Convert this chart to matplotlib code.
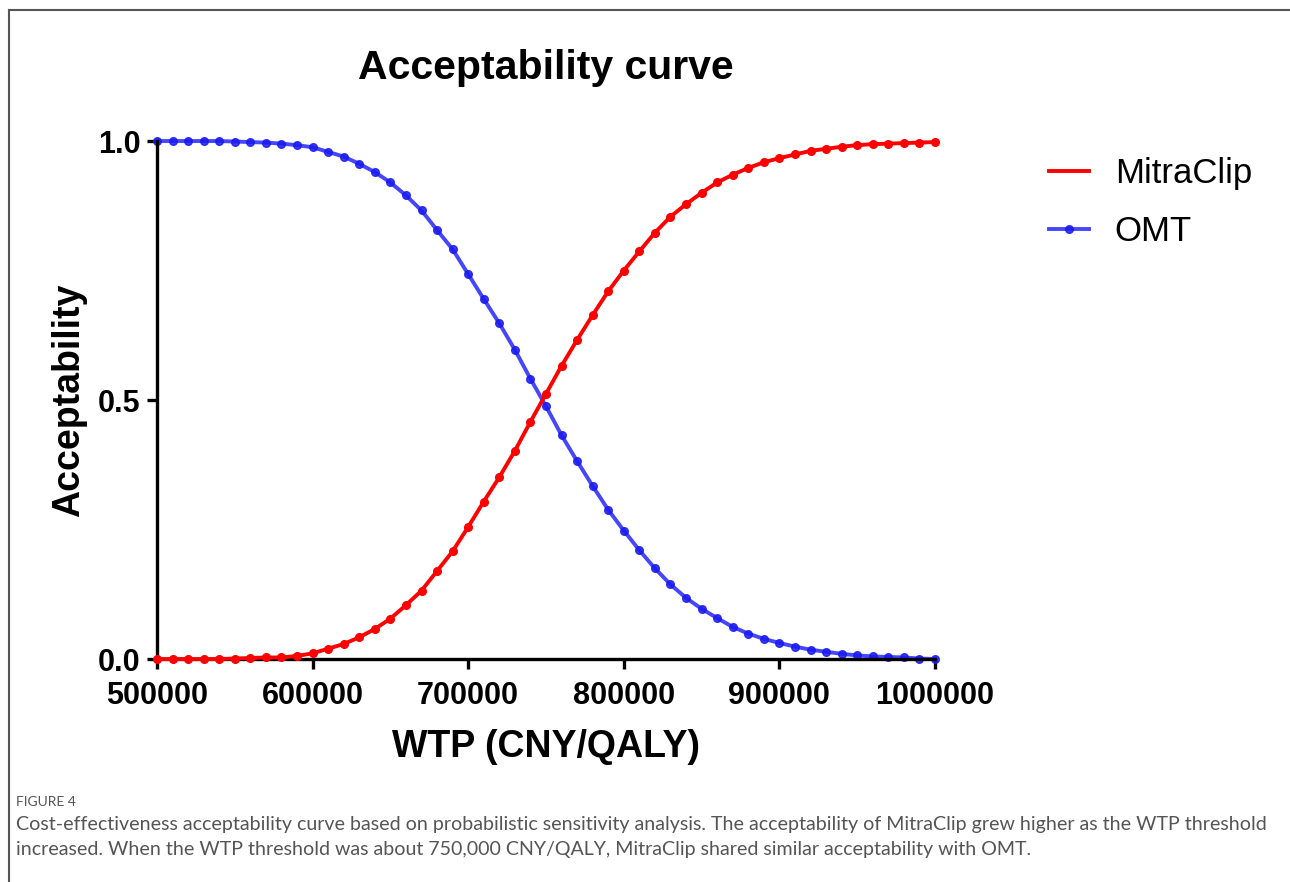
import numpy as np
import matplotlib.pyplot as plt
from matplotlib.lines import Line2D

# WTP thresholds (CNY/QALY), one point every 10000
wtp = list(range(500000, 1000001, 10000))

# acceptability
omt = [1.000, 1.000, 1.000, 1.000, 1.000, 0.999, 0.998, 0.997, 0.995, 0.992,
       0.988, 0.979, 0.970, 0.956, 0.940, 0.920, 0.895, 0.866, 0.828, 0.791,
       0.743, 0.695, 0.648, 0.597, 0.541, 0.488, 0.432, 0.382, 0.334, 0.288,
       0.248, 0.210, 0.175, 0.144, 0.118, 0.097, 0.079, 0.062, 0.049, 0.039,
       0.031, 0.024, 0.018, 0.014, 0.010, 0.007, 0.005, 0.004, 0.003, 0.001,
       0.000]
mitraclip = [0.000, 0.000, 0.000, 0.000, 0.000, 0.001, 0.002, 0.003, 0.003, 0.006,
             0.011, 0.020, 0.029, 0.042, 0.058, 0.078, 0.104, 0.132, 0.170, 0.208,
             0.255, 0.304, 0.351, 0.402, 0.458, 0.512, 0.566, 0.616, 0.664, 0.710,
             0.750, 0.787, 0.823, 0.854, 0.878, 0.900, 0.920, 0.935, 0.948, 0.959,
             0.967, 0.974, 0.981, 0.985, 0.989, 0.992, 0.994, 0.995, 0.996, 0.997,
             0.998]

xticks = [500000, 600000, 700000, 800000, 900000, 1000000]
yticks = [0.0, 0.5, 1.0]

caption = ("Cost-effectiveness acceptability curve based on probabilistic sensitivity analysis. "
           "The acceptability of MitraClip grew higher as the WTP threshold\n"
           "increased. When the WTP threshold was about 750,000 CNY/QALY, "
           "MitraClip shared similar acceptability with OMT.")

plt.rcParams['font.family'] = ['Liberation Sans', 'DejaVu Sans']

fig = plt.figure(figsize=(12.9, 8.82), dpi=100)
ax = fig.add_axes([0.1217, 0.2528, 0.6031, 0.5873])

ax.plot(wtp, mitraclip, color='#ff0000', lw=2.8, label='MitraClip', zorder=3)
ax.plot(wtp, mitraclip, ls='none', marker='o', ms=5.5, color='#ff0000', zorder=4)
ax.plot(wtp, omt, color='#2525ff', lw=2.8, alpha=0.85, marker='o', ms=5.5,
        markerfacecolor='#1a1af0', markeredgecolor='#1a1af0', label='OMT', zorder=2)

ax.set_xlim(500000, 1000000)
ax.set_ylim(0, 1.0)
ax.set_xticks(xticks)
ax.set_xticklabels([str(t) for t in xticks])
ax.set_yticks(yticks)
ax.set_yticklabels(['%.1f' % t for t in yticks])
ax.spines['top'].set_visible(False)
ax.spines['right'].set_visible(False)
for s in ['left', 'bottom']:
    ax.spines[s].set_linewidth(2.4)
ax.tick_params(axis='both', width=2.4, length=7, labelsize=22)
ax.tick_params(axis='x', pad=9)
ax.tick_params(axis='y', pad=5)
for lab in ax.get_xticklabels() + ax.get_yticklabels():
    lab.set_fontweight('bold')
ax.margins(0)
for line in ax.lines:
    line.set_clip_on(False)

ax.set_xlabel('WTP (CNY/QALY)', fontsize=27, fontweight='bold', labelpad=13)
ax.set_ylabel('Acceptability', fontsize=27, fontweight='bold', labelpad=8)
ax.set_title('Acceptability curve', fontsize=29.5, fontweight='bold', pad=45)

ax.legend(loc='upper left', bbox_to_anchor=(1.106, 1.029), frameon=False,
          fontsize=25, handlelength=1.15, handletextpad=0.75, labelspacing=0.72)

# frame of the figure panel
fig.add_artist(Line2D([0.007, 1.0], [0.9887, 0.9887], color='#555555', lw=1.5))
fig.add_artist(Line2D([0.007, 0.007], [0.0, 0.9887], color='#555555', lw=1.5))

fig.text(0.0125, 0.086, 'FIGURE 4', fontsize=10, color='#555555',
         family=['Lato', 'DejaVu Sans'])
fig.text(0.0125, 0.075, caption, fontsize=14.1, color='#555555', va='top',
         linespacing=1.55, family=['Lato', 'DejaVu Sans'])

fig.savefig('out.png', dpi=100)
